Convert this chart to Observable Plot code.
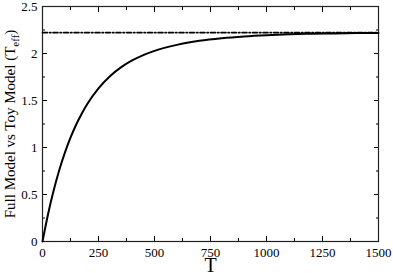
<!DOCTYPE html>
<html><head><meta charset="utf-8">
<script src="https://cdn.jsdelivr.net/npm/d3@7"></script>
<script src="https://cdn.jsdelivr.net/npm/@observablehq/plot@0.6"></script>
<style>
body{margin:0;background:#fff}
svg, svg text, svg tspan, svg g{font-family:'Liberation Serif','DejaVu Serif',serif !important;}
</style>
</head><body><div id="chart"></div>
<script>
const T = [0,25,50,75,100,125,150,175,200,250,300,350,400,450,500,600,700,800,900,1000,1100,1200,1300,1400,1500];
const fullModel = [0,0.293,0.544,0.760,0.945,1.104,1.242,1.360,1.463,1.630,1.756,1.852,1.926,1.983,2.028,2.092,2.135,2.163,2.182,2.195,2.204,2.21,2.214,2.217,2.219];
const toyModel = 2.222;
const xTicks = [0,250,500,750,1000,1250,1500];
const xMinor = [125,375,625,875,1125,1375];
const yTicks = [0,0.5,1,1.5,2,2.5];
const yMinor = [0.25,0.75,1.25,1.75,2.25];
const xLabel = "T";
const yLabel = "Full Model vs Toy Model (T";
const ySub = "eff";

const curve = T.map((t,i)=>({T:t, v:fullModel[i]}));
const asym = [{T:0, v:toyModel},{T:1500, v:toyModel}];
const font = "'Liberation Serif', 'DejaVu Serif', serif";
const blank = () => "";

const plot = Plot.plot({
  width: 393, height: 273,
  marginLeft: 42, marginRight: 15, marginTop: 6, marginBottom: 32,
  style: {fontFamily: font, fontSize: "13px", background: "#fff", color: "#000"},
  x: {domain: [0,1500]},
  y: {domain: [0,2.5]},
  marks: [
    Plot.axisX({ticks: xTicks, tickSize: -5, tickPadding: 11, tickFormat: d => String(d), fontSize: 13, fontFamily: font, label: null}),
    Plot.axisX({ticks: xMinor, tickSize: -3, tickFormat: blank, label: null}),
    Plot.axisX({anchor: "top", ticks: xTicks, tickSize: -5, tickFormat: blank, label: null}),
    Plot.axisX({anchor: "top", ticks: xMinor, tickSize: -3, tickFormat: blank, label: null}),
    Plot.axisY({ticks: yTicks, tickSize: -5, tickPadding: 10, tickFormat: d => String(d), fontSize: 13, fontFamily: font, label: null}),
    Plot.axisY({ticks: yMinor, tickSize: -3, tickFormat: blank, label: null}),
    Plot.axisY({anchor: "right", ticks: yTicks, tickSize: -5, tickFormat: blank, label: null}),
    Plot.axisY({anchor: "right", ticks: yMinor, tickSize: -3, tickFormat: blank, label: null}),
    Plot.frame({stroke: "#222", strokeWidth: 1.2}),
    Plot.line(asym, {x: "T", y: "v", stroke: "#000", strokeWidth: 1.6, strokeDasharray: "5,2,1.5,2"}),
    Plot.line(curve, {x: "T", y: "v", stroke: "#000", strokeWidth: 2, curve: "monotone-x"}),
    Plot.text([xLabel], {frameAnchor: "bottom", dy: 30, fontSize: 20, text: d => d, lineAnchor: "bottom", fontFamily: font}),
    Plot.text([yLabel], {frameAnchor: "left", dx: -32, rotate: -90, textAnchor: "middle", fontSize: 15, text: d => d, fontFamily: font, className: "ylab"})
  ]
});
document.getElementById("chart").appendChild(plot);
// force serif everywhere
plot.querySelectorAll("g, text").forEach(el => {
  el.removeAttribute("font-variant");
  el.style.setProperty("font-variant", "normal", "important");
  el.style.setProperty("font-family", font, "important");
});
// add subscript to y label
const t = plot.querySelector(".ylab text");
if (t) {
  t.textContent = "";
  const a = document.createElementNS("http://www.w3.org/2000/svg","tspan"); a.textContent = yLabel;
  const b = document.createElementNS("http://www.w3.org/2000/svg","tspan"); b.textContent = ySub; b.setAttribute("font-size","11"); b.setAttribute("dy","4");
  const c = document.createElementNS("http://www.w3.org/2000/svg","tspan"); c.textContent = ")"; c.setAttribute("dy","-4");
  t.append(a,b,c);
}
</script></body></html>
